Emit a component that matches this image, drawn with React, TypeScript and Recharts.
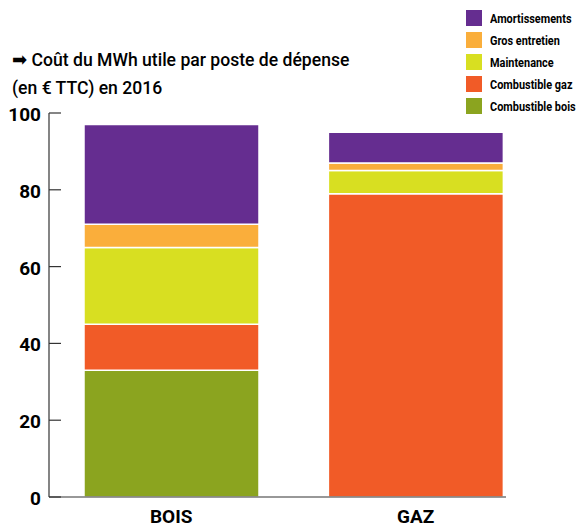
import { BarChart, Bar, XAxis, YAxis } from "recharts";

const categories = ["BOIS", "GAZ"];
const combustibleBois = [33, 0];
const combustibleGaz = [12, 79];
const maintenance = [20, 6];
const grosEntretien = [6, 2];
const amortissements = [26, 8];
const yTicks = [0, 20, 40, 60, 80, 100];

const series = [
    {key: "bois", name: "Combustible bois", values: combustibleBois, color: "#8BA41F"},
    {key: "gaz", name: "Combustible gaz", values: combustibleGaz, color: "#F15B27"},
    {key: "maintenance", name: "Maintenance", values: maintenance, color: "#D8DF21"},
    {key: "gros", name: "Gros entretien", values: grosEntretien, color: "#FAAE3B"},
    {key: "amort", name: "Amortissements", values: amortissements, color: "#652D90"},
];

const data = categories.map((c, i) => {
    const row: any = {name: c, idx: i};
    series.forEach(s => { row[s.key] = s.values[i]; });
    return row;
});

const FONT = "Roboto, 'Liberation Sans', sans-serif";

const YTick = (props: any) => {
    const {x, y, payload} = props;
    return (
        <g>
            <line x1={x + 8} x2={x + 20} y1={y} y2={y} stroke="#333" strokeWidth={1.2}/>
            <text x={x} y={y} dy={8} textAnchor="end" fontFamily={FONT} fontSize={19} fontWeight="bold" fill="#000">
                {payload.value}
            </text>
        </g>
    );
};

// legend is listed top-down in reverse stacking order
const LegendBox = () => (
    <div style={{position: "absolute", left: 466, top: 7, fontFamily: FONT, fontSize: 13, fontWeight: "bold", color: "#000"}}>
        {[...series].reverse().map(s => (
            <div key={s.key} style={{display: "flex", alignItems: "center", height: 22}}>
                <span style={{display: "inline-block", width: 16, height: 16, background: s.color, marginRight: 8, flex: "none"}}/>
                <span style={{display: "inline-block", whiteSpace: "nowrap", transform: "scaleX(0.84)", transformOrigin: "left center"}}>{s.name}</span>
            </div>
        ))}
    </div>
);

export default function App() {
    return (
        <div style={{position: "absolute", left: 0, top: 0, width: 587, height: 528, background: "#fff", overflow: "hidden"}}>
            <div style={{position: "absolute", left: 12, top: 46, fontFamily: FONT, fontSize: 18.5, fontWeight: 500, lineHeight: "28px", color: "#000", whiteSpace: "nowrap", transform: "scaleX(0.95)", transformOrigin: "left top"}}>
                <div>➡ Coût du MWh utile par poste de dépense</div>
                <div>(en € TTC) en 2016</div>
            </div>
            <LegendBox/>
            <BarChart
                width={587}
                height={528}
                data={data}
                margin={{top: 113, right: 81, bottom: 0, left: 0}}
            >
                <XAxis
                    type="number"
                    dataKey="idx"
                    domain={[-0.5, 1.37]}
                    allowDataOverflow
                    ticks={[0, 1]}
                    tickFormatter={(i: number) => categories[i]}
                    height={31}
                    tickLine={false}
                    tickSize={6}
                    tickMargin={7}
                    axisLine={{stroke: "#333", strokeWidth: 1.2}}
                    tick={{fontFamily: FONT, fontSize: 19, fontWeight: "bold", fill: "#000"}}
                />
                <YAxis
                    width={49}
                    domain={[0, 100]}
                    ticks={yTicks}
                    tickLine={false}
                    tickSize={6}
                    tickMargin={2}
                    axisLine={{stroke: "#333", strokeWidth: 1.2}}
                    tick={<YTick/>}
                />
                {series.map(s => (
                    <Bar
                        key={s.key}
                        dataKey={s.key}
                        name={s.name}
                        stackId="a"
                        fill={s.color}
                        stroke="#fff"
                        strokeWidth={1.5}
                        barSize={175}
                        isAnimationActive={false}
                    />
                ))}
            </BarChart>
        </div>
    );
}
